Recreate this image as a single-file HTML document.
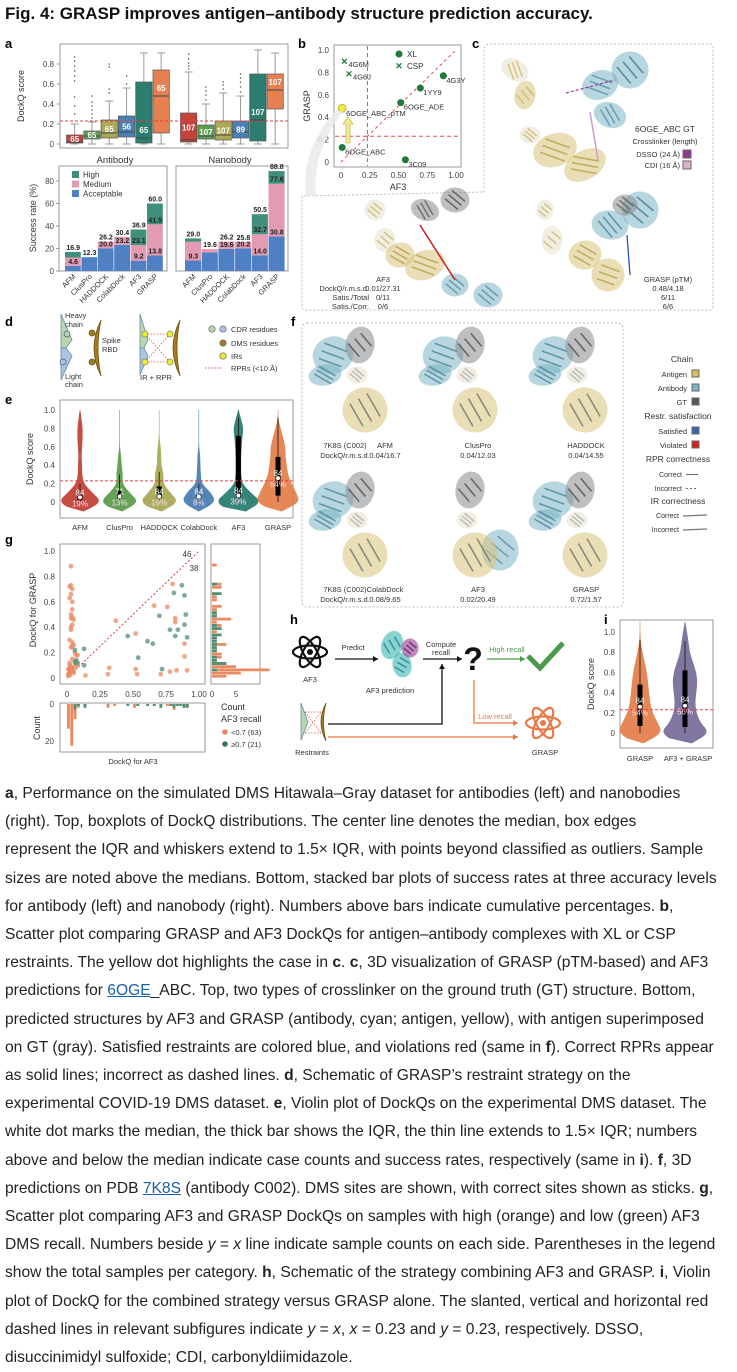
<!DOCTYPE html>
<html><head><meta charset="utf-8">
<style>
html,body{margin:0;padding:0;background:#fff;}
body{width:737px;height:1370px;position:relative;overflow:hidden;font-family:"Liberation Sans",sans-serif;}
#title{position:absolute;left:5px;top:4px;font-size:17px;font-weight:bold;color:#111;white-space:nowrap;}
#fig{position:absolute;left:0;top:0;}
#caption{position:absolute;left:5px;top:780px;font-size:15.6px;line-height:28.2px;color:#222;white-space:nowrap;}
#caption u{color:#1a5fa8;}
svg text{font-family:"Liberation Sans",sans-serif;}
</style></head>
<body>
<div id="title">Fig. 4: GRASP improves antigen–antibody structure prediction accuracy.</div>
<svg id="fig" width="737" height="775" viewBox="0 0 737 775"></svg>
<div id="caption"><b>a</b>, Performance on the simulated DMS Hitawala–Gray dataset for antibodies (left) and nanobodies<br>(right). Top, boxplots of DockQ distributions. The center line denotes the median, box edges<br>represent the IQR and whiskers extend to 1.5× IQR, with points beyond classified as outliers. Sample<br>sizes are noted above the medians. Bottom, stacked bar plots of success rates at three accuracy levels<br>for antibody (left) and nanobody (right). Numbers above bars indicate cumulative percentages. <b>b</b>,<br>Scatter plot comparing GRASP and AF3 DockQs for antigen–antibody complexes with XL or CSP<br>restraints. The yellow dot highlights the case in <b>c</b>. <b>c</b>, 3D visualization of GRASP (pTM-based) and AF3<br>predictions for <u>6OGE</u>_ABC. Top, two types of crosslinker on the ground truth (GT) structure. Bottom,<br>predicted structures by AF3 and GRASP (antibody, cyan; antigen, yellow), with antigen superimposed<br>on GT (gray). Satisfied restraints are colored blue, and violations red (same in <b>f</b>). Correct RPRs appear<br>as solid lines; incorrect as dashed lines. <b>d</b>, Schematic of GRASP’s restraint strategy on the<br>experimental COVID-19 DMS dataset. <b>e</b>, Violin plot of DockQs on the experimental DMS dataset. The<br>white dot marks the median, the thick bar shows the IQR, the thin line extends to 1.5× IQR; numbers<br>above and below the median indicate case counts and success rates, respectively (same in <b>i</b>). <b>f</b>, 3D<br>predictions on PDB <u>7K8S</u> (antibody C002). DMS sites are shown, with correct sites shown as sticks. <b>g</b>,<br>Scatter plot comparing AF3 and GRASP DockQs on samples with high (orange) and low (green) AF3<br>DMS recall. Numbers beside <i>y</i> = <i>x</i> line indicate sample counts on each side. Parentheses in the legend<br>show the total samples per category. <b>h</b>, Schematic of the strategy combining AF3 and GRASP. <b>i</b>, Violin<br>plot of DockQ for the combined strategy versus GRASP alone. The slanted, vertical and horizontal red<br>dashed lines in relevant subfigures indicate <i>y</i> = <i>x</i>, <i>x</i> = 0.23 and <i>y</i> = 0.23, respectively. DSSO,<br>disuccinimidyl sulfoxide; CDI, carbonyldiimidazole.</div>
<script>
// ---------- DATA ----------
const methods=['AFM','ClusPro','HADDOCK','ColabDock','AF3','GRASP'];
const abQ1=[0.01,0.05,0.06,0.07,0.01,0.11];
const abMed=[0.02,0.08,0.11,0.12,0.06,0.48];
const abQ3=[0.09,0.13,0.24,0.28,0.62,0.74];
const abWhi=[0.20,0.22,0.43,0.56,0.91,0.91];
const abN=['65','65','65','56','65','65'];
const abOut=[[0.3,0.38,0.47,0.63,0.68,0.73,0.78,0.83,0.87],[0.26,0.3,0.34,0.38,0.42,0.48],[0.51,0.55,0.77,0.8],[0.6,0.68],[],[]];
const nbQ1=[0.02,0.05,0.04,0.06,0.03,0.35];
const nbMed=[0.04,0.08,0.09,0.12,0.24,0.54];
const nbQ3=[0.31,0.19,0.23,0.23,0.70,0.70];
const nbWhi=[0.72,0.40,0.51,0.48,0.94,0.91];
const nbN=['107','107','107','89','107','107'];
const nbOut=[[0.75,0.78,0.81,0.85,0.9],[0.44,0.49,0.53,0.57],[0.55,0.59,0.62],[0.52,0.57,0.62,0.66,0.7],[],[]];
const yTicksA=[0,0.2,0.4,0.6,0.8];
const abBlue=[4.6,12.3,20.0,23.2,9.2,13.8];
const abPink=[12.0,12.3,26.2,30.4,23.1,41.5];
const abTot=[16.9,12.3,26.2,30.4,36.9,60.0];
const nbBlue=[9.3,16.5,19.6,20.2,14.0,30.8];
const nbPink=[26.0,19.6,26.2,25.8,32.7,77.6];
const nbTot=[29.0,19.6,26.2,25.8,50.5,88.8];
const yTicksS=[0,20,40,60,80];
const bNames=['6OGE_ABC','3C09','6OGE_ADE','1YY9','4G3Y'];
const bAF3=[0.01,0.56,0.52,0.69,0.89];
const bGRASP=[0.13,0.02,0.53,0.66,0.77];
const bCspNames=['4G6M','4G6J'];
const bCspAF3=[0.03,0.07];
const bCspGRASP=[0.90,0.79];
const bPtmAF3=0.01, bPtmGRASP=0.48;
const bTicks=[0,0.25,0.5,0.75,1.0];
const bYTicks=[0,0.2,0.4,0.6,0.8,1.0];
const vLevels=[-0.1,0,0.1,0.2,0.3,0.4,0.5,0.6,0.7,0.8,0.9,1.0];
const eDens=[[3,18,10,3,1.5,1.5,1,1.5,2,2,1,0],[2,16,8,2,2.5,1.5,1,0,0,0,0,0],[2,16,9,3,3.5,1.5,1.5,1,0,0,0,0],[0,14,10,2,1.5,1,1,0,0,0,0,0],[6,19,10,3,2,2,2,2.5,3,4,2,0],[3,18,15,11,8,7,6,6,4,2,0,0]];
const eQ1=[0.02,0.04,0.04,0.05,0.05,0.07];
const eMed=[0.05,0.06,0.06,0.06,0.07,0.26];
const eQ3=[0.08,0.12,0.17,0.08,0.72,0.49];
const eWhi=[0.2,0.3,0.33,0.2,0.92,0.92];
const eN=['84','71','84','84','84','84'];
const eRate=['19%','13%','19%','8%','39%','54%'];
const eColors=['#c4443a','#5d9e50','#a8aa55','#4a80b3','#2c7d70','#e58150'];
const gOrangeX=[0.03,0.02,0.03,0.04,0.03,0.02,0.04,0.04,0.03,0.04,0.03,0.05,0.04,0.03,0.03,0.02,0.04,0.05,0.03,0.06,0.07,0.08,0.04,0.06,0.02,0.04,0.03,0.05,0.02,0.08,0.01,0.02,0.03,0.01,0.02,0.03,0.04,0.02,0.14,0.32,0.31,0.37,0.52,0.52,0.53,0.66,0.71,0.76,0.78,0.80,0.82,0.82,0.83,0.89,0.89,0.91,0.02,0.03,0.05,0.01,0.04,0.06,0.02];
const gOrangeY=[0.88,0.72,0.73,0.70,0.66,0.63,0.60,0.54,0.50,0.48,0.47,0.46,0.42,0.40,0.38,0.30,0.28,0.26,0.24,0.20,0.18,0.18,0.15,0.13,0.10,0.08,0.05,0.04,0.02,0.10,0.07,0.06,0.09,0.03,0.04,0.08,0.06,0.05,0.02,0.08,0.03,0.45,0.35,0.07,0.03,0.57,0.03,0.56,0.05,0.74,0.47,0.44,0.06,0.27,0.17,0.06,0.12,0.07,0.05,0.02,0.25,0.09,0.07];
const gGreenX=[0.06,0.07,0.08,0.13,0.13,0.46,0.54,0.61,0.65,0.70,0.72,0.78,0.81,0.82,0.84,0.87,0.89,0.89,0.90,0.91,0.06];
const gGreenY=[0.22,0.14,0.12,0.23,0.10,0.33,0.16,0.29,0.27,0.49,0.07,0.38,0.67,0.33,0.38,0.73,0.65,0.42,0.50,0.32,0.12];
const gTicks=[0,0.25,0.5,0.75,1.0];
const gYTicks=[0,0.2,0.4,0.6,0.8,1.0];
const iLevels=[-0.1,0,0.1,0.2,0.3,0.4,0.5,0.6,0.7,0.8,0.9,1.0,1.1];
const iDens=[[3,20,16,11,9,8,7,6,4,2,0.5,0,0],[6,22,14,10,9,10,11,10,7,4,3,1.5,0]];
const iQ1=[0.07,0.06], iMed=[0.26,0.27], iQ3=[0.48,0.62], iWhi=[0.92,0.91];
const iN=['84','84'], iRate=['54%','56%'];
const iNames=['GRASP','AF3 + GRASP'];
const iColors=['#e58150','#7b6f9b'];

// ---------- HELPERS ----------
const NS='http://www.w3.org/2000/svg';
const svg=document.getElementById('fig');
function el(tag,a,p){const e=document.createElementNS(NS,tag);for(const k in a)e.setAttribute(k,a[k]);(p||svg).appendChild(e);return e;}
function T(x,y,s,fs,anc,fill,fw){const t=el('text',{x:x,y:y,'font-size':fs,'text-anchor':anc||'start',fill:fill||'#333','font-weight':fw||'normal'});t.textContent=s;return t;}
function L(x1,y1,x2,y2,st,w,dash){const a={x1:x1,y1:y1,x2:x2,y2:y2,stroke:st||'#333','stroke-width':w||1};if(dash)a['stroke-dasharray']=dash;return el('line',a);}
function R(x,y,w,h,f,st){const a={x:x,y:y,width:w,height:h,fill:f||'none'};if(st){a.stroke=st;a['stroke-width']=1;}return el('rect',a);}
function panelLetter(x,y,s){const t=T(x,y,s,13,'start','#000','bold');}

// ---------- PANEL A: boxplots ----------
panelLetter(5,48,'a');
const yA=v=>144-100*v;
let fa=R(60,44,228,104,'none','#999');


yTicksA.forEach(v=>{
  const tl=T(54,yA(v)+3,v===0?'0':v.toFixed(1),8,'end','#444');
  
  
  const tk=L(57,yA(v),60,yA(v),'#999');
  
  
});
let yta=T(0,0,'DockQ score',9,'middle','#333');
yta.setAttribute('transform','translate(24,96) rotate(-90)');


function boxGroup(x0,q1,med,q3,whi,ns,outs,grp){
  const BW=17.3;
  for(let i=0;i<6;i++){
    const x=x0+i*BW, cx=x+BW/2;
    const w=L(cx,yA(0),cx,yA(whi[i]),'#999',1);
    
    
    const c1=L(cx-4,yA(whi[i]),cx+4,yA(whi[i]),'#999',1);
    
    
    const c2=L(cx-4,yA(0),cx+4,yA(0),'#999',1);
    
    
    outs[i].forEach(o=>{
      const d=el('circle',{cx:cx,cy:yA(o),r:0.8,fill:'#555'});
      
      
    });
    const b=el('rect',{x:x+0.5,y:yA(q3[i]),width:BW-1,height:yA(q1[i])-yA(q3[i]),fill:eColors[i],stroke:'#555','stroke-width':0.7});
    
    
    const m=L(x+0.5,yA(med[i]),x+BW-0.5,yA(med[i]),'#444',1);
    
    
    const lv=(q3[i]-q1[i])<0.3?(q1[i]+q3[i])/2:med[i]+0.08;
    const t=T(cx,yA(lv)+3,ns[i],8,'middle','#fff','bold');
    
    
  }
}
boxGroup(66,abQ1,abMed,abQ3,abWhi,abN,abOut,'antibody');
boxGroup(180,nbQ1,nbMed,nbQ3,nbWhi,nbN,nbOut,'nanobody');
let thA=L(60,yA(0.23),288,yA(0.23),'#e04040',1,'3,2');


let gl1=T(115,163,'Antibody',9.5,'middle','#333');


let gl2=T(230,163,'Nanobody',9.5,'middle','#333');



// ---------- PANEL A: stacked bars ----------
const yS=v=>271-1.125*v;
let fs1=R(59,166,108,105,'none','#999');


let fs2=R(176,166,112,105,'none','#999');


yTicksS.forEach(v=>{
  const t=T(54,yS(v)+3,String(v),8,'end','#444');
  
  
  const tk=L(56,yS(v),59,yS(v),'#999');
  
  
});
let yts=T(0,0,'Success rate (%)',9,'middle','#333');
yts.setAttribute('transform','translate(36,218) rotate(-90)');


const cHigh='#3f8f7c', cMed='#e39bb2', cAcc='#5080c4';
function barGroup(x0,bw,blue,pink,tot,grp){
  for(let i=0;i<6;i++){
    const x=x0+i*bw;
    const r1=R(x,yS(blue[i]),bw-0.6,yS(0)-yS(blue[i]),cAcc);
    
    
    const r2=R(x,yS(pink[i]),bw-0.6,yS(blue[i])-yS(pink[i]),cMed);
    
    
    const r3=R(x,yS(tot[i]),bw-0.6,yS(pink[i])-yS(tot[i]),cHigh);
    
    
    const cx=x+bw/2;
    const tt=T(cx,yS(tot[i])-2,tot[i].toFixed(1),7,'middle','#222','bold');
    
    
    if(pink[i]-blue[i]>3.5){
      const tb=T(cx,yS(blue[i])-2,blue[i].toFixed(1),7,'middle','#222','bold');
      
      
    }
    if(tot[i]-pink[i]>5&&pink[i]-blue[i]>8){
      const tp=T(cx,yS(pink[i])-2,pink[i].toFixed(1),7,'middle','#222','bold');
      
      
    }
    const xl=T(0,0,methods[i],7.5,'end','#333');
    xl.setAttribute('transform','translate('+(cx+3)+',277) rotate(-45)');
    
    
  }
}
barGroup(65,16.4,abBlue,abPink,abTot,'antibody');
barGroup(185,16.7,nbBlue,nbPink,nbTot,'nanobody');
[['High',cHigh],['Medium',cMed],['Acceptable',cAcc]].forEach((d,k)=>{
  const s=R(72,171+k*9.5,7,7,d[1]);
  
  
  const t=T(83,177.5+k*9.5,d[0],8,'start','#333');
  
  
});

// ---------- PANEL B ----------
panelLetter(298,48,'b');
const xB=v=>341+115*v, yB=v=>162-112*v;
let fb=R(334,45,127,122,'none','#999');


bTicks.forEach(v=>{
  const t=T(xB(v),178,v===0?'0':v.toFixed(2),8,'middle','#444');
  
  
});
bYTicks.forEach(v=>{
  const t=T(329,yB(v)+3,v===0?'0':v.toFixed(1),8,'end','#444');
  
  
});
let bx=T(398,190,'AF3',9,'middle','#333');


let byt=T(0,0,'GRASP',9,'middle','#333');
byt.setAttribute('transform','translate(310,106) rotate(-90)');


let bd1=L(xB(0.23),46,xB(0.23),166,'#e05050',1,'4,3');


let bd2=L(335,yB(0.23),460,yB(0.23),'#e05050',1,'4,3');


let bd3=L(xB(0),yB(0),xB(1),yB(1),'#e05050',1,'3,3');


bNames.forEach((n,i)=>{
  const c=el('circle',{cx:xB(bAF3[i]),cy:yB(bGRASP[i]),r:3.5,fill:'#1f7a3a'});
  
  
  const t=T(xB(bAF3[i])+3,yB(bGRASP[i])+7,n,7.5,'start','#333');
  
  
});
bCspNames.forEach((n,i)=>{
  const t=T(xB(bCspAF3[i]),yB(bCspGRASP[i])+3.5,'✕',9,'middle','#1f7a3a','bold');
  
  
  const l=T(xB(bCspAF3[i])+4,yB(bCspGRASP[i])+6,n,7.5,'start','#333');
  
  
});
let ptm=el('circle',{cx:xB(bPtmAF3),cy:yB(bPtmGRASP),r:4,fill:'#f2e64c',stroke:'#b8a820','stroke-width':0.7});


let ptl=T(xB(bPtmAF3)+4,yB(bPtmGRASP)+8,'6OGE_ABC_pTM',7.5,'start','#333');


let arw=el('path',{d:'M346,143 L346,124 L343,124 L348,117 L353,124 L350,124 L350,143 Z',fill:'#f2ec9a',stroke:'#b8a820','stroke-width':0.6});


let lx=el('circle',{cx:399,cy:54,r:3.5,fill:'#1f7a3a'});


let lxt=T(407,57,'XL',8,'start','#333');


let lc=T(399,69,'✕',9,'middle','#1f7a3a','bold');


let lct=T(407,69,'CSP',8,'start','#333');



// ---------- PANEL C ----------
panelLetter(472,48,'c');
let cbox=el('path',{d:'M490,44 L710,44 Q713,44 713,47 L713,307 Q713,310 710,310 L305,310 Q302,310 302,307 L302,196 L484,192 L484,50 Q484,44 490,44',fill:'none',stroke:'#bbb','stroke-width':1,'stroke-dasharray':'2,2'});


let zoomBand=el('path',{d:'M336,110 Q300,150 306,196 L316,196 Q312,150 343,112 Z',fill:'#e8e8e8',opacity:0.8});


function protein(parts,name){
  const g=el('g',{});
  
  
  parts.forEach(p=>{
    const col=p[4];
    const e=el('ellipse',{cx:p[0],cy:p[1],rx:p[2],ry:p[3],fill:col,opacity:0.55,stroke:col,'stroke-width':1,transform:'rotate('+(p[5]||0)+' '+p[0]+' '+p[1]+')'},g);
    
    
    for(let k=-1;k<=1;k++){
      const ln=el('line',{x1:p[0]-p[2]*0.6,y1:p[1]+k*p[3]*0.45,x2:p[0]+p[2]*0.6,y2:p[1]+k*p[3]*0.45,stroke:p[6]||'#555','stroke-width':1.6,opacity:0.7,transform:'rotate('+((p[5]||0)+40)+' '+p[0]+' '+p[1]+')'},g);
      
      
    }
  });
}
const Y='#d8c47a',Cy='#7db5c6',G='#8a8c90',W='#e6e2cf';
protein([[515,70,14,10,W,30,'#c9b460'],[525,95,10,14,Y,10,'#c9b460'],[555,150,22,16,Y,-20,'#b09a40'],[585,165,22,14,Y,-30,'#b09a40'],[530,135,10,8,W,0,'#c9b460'],[600,85,18,14,Cy,-20,'#4d8a9c'],[630,70,18,18,Cy,10,'#2f6d80'],[610,115,16,12,Cy,20,'#4d8a9c']],'gt-structure');
let xl1=L(566,93,615,80,'#9a3a9a',1.2,'3,2');


let xl2=L(590,112,598,160,'#d49ac8',1.5);


let ct1=T(665,132,'6OGE_ABC GT',8.5,'middle','#333');


let ct2=T(665,144,'Crosslinker (length)',7.5,'middle','#333');


let ct3=T(680,157,'DSSO (24 Å)',7.5,'end','#333');


let cs3=R(683,150,8,8,'#8e3a8e','#666');


let ct4=T(680,168,'CDI (16 Å)',7.5,'end','#333');


let cs4=R(683,161,8,8,'#e0b0cc','#666');


protein([[375,210,10,10,W,0,'#c9b460'],[385,240,10,12,W,0,'#c9b460'],[400,255,14,12,Y,-10,'#b09a40'],[425,265,20,14,Y,-20,'#b09a40'],[425,210,14,10,G,20,'#555'],[455,200,14,12,G,0,'#444'],[455,285,13,11,Cy,0,'#4d8a9c'],[488,295,14,12,Cy,0,'#4d8a9c']],'af3-structure');
let rl=L(420,225,455,280,'#cc2020',1.5);


protein([[545,210,8,10,W,0,'#c9b460'],[552,240,10,14,W,0,'#c9b460'],[585,255,16,14,Y,-10,'#b09a40'],[608,275,16,16,Y,-20,'#b09a40'],[610,225,18,14,Cy,10,'#3d7d90'],[640,210,18,18,Cy,0,'#2f6d80'],[625,205,12,10,G,0,'#555']],'grasp-structure');
let sl=L(627,235,630,275,'#3050c0',1.3);


const cLab=[['AF3',''],['DockQ/r.m.s.d.','0.01/27.31'],['Satis./Total','0/11'],['Satis./Corr.','0/6']];
cLab.forEach((r,k)=>{
  if(k===0){const t=T(383,282,'AF3',7.5,'middle','#333');return;}
  const a=T(369,282+k*9,r[0],7.5,'end','#333');
  
  
  const b=T(383,282+k*9,r[1],7.5,'middle','#333');
  
  
});
['GRASP (pTM)','0.48/4.18','6/11','6/6'].forEach((s,k)=>{
  const t=T(668,282+k*9,s,7.5,'middle','#333');
  
  
});

// ---------- PANEL D ----------
panelLetter(5,326,'d');
let dh=el('path',{d:'M61,314 L72,340 L66,348 L61,348 Z',fill:'#b8d6ae',stroke:'#6a8aa8','stroke-width':0.8});


let dl=el('path',{d:'M61,348 L66,348 L72,356 L61,380 Z',fill:'#a8c6e4',stroke:'#6a8aa8','stroke-width':0.8});


[[67,334,'#b8d6ae'],[63,362,'#a8c6e4']].forEach(c=>{const e=el('circle',{cx:c[0],cy:c[1],r:3,fill:c[2],stroke:'#557','stroke-width':0.7});});
function rbd(x){const p=el('path',{d:'M'+(x+8)+',320 Q'+(x-6)+',348 '+(x+8)+',376 Q'+(x+2)+',348 '+(x+8)+',320 Z',fill:'#a47c1e',stroke:'#6b5010','stroke-width':0.8});}
rbd(93);rbd(172);
[[92,333],[92,362]].forEach(c=>{const e=el('circle',{cx:c[0],cy:c[1],r:3,fill:'#a47c1e',stroke:'#553','stroke-width':0.7});});
[['Heavy',65,318],['chain',65,327],['Spike',102,343],['RBD',102,352],['Light',65,379],['chain',65,387]].forEach(d=>{const t=T(d[1],d[2],d[0],7.5,'start','#333');});
let dh2=el('path',{d:'M140,314 L148,340 L144,348 L140,348 Z',fill:'#b8d6ae',stroke:'#6a8aa8','stroke-width':0.8});


let dl2=el('path',{d:'M140,348 L144,348 L148,356 L140,375 Z',fill:'#a8c6e4',stroke:'#6a8aa8','stroke-width':0.8});


[[145,334,170,334],[145,362,170,362],[145,334,170,362],[145,362,170,334]].forEach(l=>{const e=L(l[0],l[1],l[2],l[3],'#e05050',0.8,'1.5,1.5');});
[[145,334],[145,362],[170,334],[170,362]].forEach(c=>{const e=el('circle',{cx:c[0],cy:c[1],r:3,fill:'#ecec30',stroke:'#886','stroke-width':0.7});});
let irl=T(140,380,'IR + RPR',7.5,'start','#333');


[[212,329,'#b8d6ae'],[223,329,'#a8c6e4'],[223,343,'#a47c1e'],[223,356,'#ecec30']].forEach(c=>{const e=el('circle',{cx:c[0],cy:c[1],r:3.2,fill:c[2],stroke:'#667','stroke-width':0.7});});
let rl2=L(205,368,222,368,'#e05050',0.9,'1.5,1.5');


[['CDR residues',332],['DMS residues',346],['IRs',359],['RPRs (<10 Å)',371]].forEach(d=>{const t=T(231,d[1],d[0],7.5,'start','#333');});

// ---------- VIOLIN helper ----------
function violin(cx,dens,levels,ys,col,scale,name){
  let right=[],left=[];
  for(let k=0;k<levels.length;k++){right.push([cx+dens[k]*scale,ys(levels[k])]);}
  for(let k=levels.length-1;k>=0;k--){left.push([cx-dens[k]*scale,ys(levels[k])]);}
  const pts=right.concat(left);
  let d='M'+pts[0][0]+','+pts[0][1];
  for(let k=1;k<pts.length;k++){const p0=pts[k-1],p1=pts[k];const mx=(p0[0]+p1[0])/2,my=(p0[1]+p1[1])/2;d+=' Q'+p0[0]+','+p0[1]+' '+mx+','+my;}
  d+=' Z';
  const p=el('path',{d:d,fill:col,stroke:col,'stroke-width':0.6,opacity:0.95});
  
  
}

// ---------- PANEL E ----------
panelLetter(5,404,'e');
const yE=v=>502-92*v;
let fe=R(60,400,233,118,'none','#999');


[0,0.2,0.4,0.6,0.8,1.0].forEach(v=>{
  const t=T(55,yE(v)+3,v===0?'0':v.toFixed(1),8,'end','#444');
  
  
});
let eyt=T(0,0,'DockQ score',9,'middle','#333');
eyt.setAttribute('transform','translate(33,459) rotate(-90)');


methods.forEach((m,i)=>{
  const cx=80+39.6*i;
  violin(cx,eDens[i],vLevels,yE,eColors[i],1.2,'violin-'+m);
  const wl=L(cx,yE(0),cx,yE(eWhi[i]),'#111',0.8);
  
  
  const ib=el('rect',{x:cx-2.5,y:yE(eQ3[i]),width:5,height:yE(eQ1[i])-yE(eQ3[i]),fill:'#000'});
  
  
  const md=el('circle',{cx:cx,cy:yE(eMed[i]),r:2,fill:'#fff'});
  
  
  const n=T(cx,yE(eMed[i])-2,eN[i],8,'middle','#fff');
  
  
  const r=T(cx,yE(eMed[i])+9,eRate[i],8,'middle','#fde');
  
  
  const xl=T(cx,530,m,7.5,'middle','#333');
  
  
});
let eth=L(60,yE(0.23),293,yE(0.23),'#e04040',1,'3,2');



// ---------- PANEL F ----------
panelLetter(291,326,'f');
let fbx=R(302,323,321,284,'none','#bbb');
fbx.setAttribute('rx',5);
fbx.setAttribute('stroke-dasharray','2,2');


const fCells=[[355,380,0],[465,380,1],[575,380,2],[355,525,3],[465,525,4],[575,525,5]];
fCells.forEach((c,k)=>{
  const x=c[0],y=c[1];
  const ab= k===4 ? [[x+35,y+25,18,20,Cy,0,'#4d8a9c']] : [[x-22,y-25,20,18,Cy,-20,'#3d7d90'],[x-30,y-5,16,10,Cy,-10,'#3d7d90']];
  protein(ab.concat([[x+5,y-35,14,18,G,10,'#444'],[x+10,y+30,22,22,Y,20,'#666'],[x+2,y-5,10,8,W,0,'#aaa']]),'f-structure-'+k);
});
[['7K8S (C002)',345,448,'middle'],['DockQ/r.m.s.d.',345,458,'middle'],['AFM',385,448,'middle'],['0.04/16.7',385,458,'middle'],['ClusPro',478,448,'middle'],['0.04/12.03',478,458,'middle'],['HADDOCK',586,448,'middle'],['0.04/14.55',586,458,'middle'],
 ['7K8S (C002)',345,592,'middle'],['DockQ/r.m.s.d.',345,602,'middle'],['ColabDock',385,592,'middle'],['0.08/9.65',385,602,'middle'],['AF3',478,592,'middle'],['0.02/20.49',478,602,'middle'],['GRASP',586,592,'middle'],['0.72/1.57',586,602,'middle']].forEach(d=>{
  const t=T(d[1],d[2],d[0],7.5,d[3],'#333');
  
  
});
[['Chain',682,362,'middle',8.5],['Restr. satisfaction',678,419,'middle',8.5],['RPR correctness',678,462,'middle',8.5],['IR correctness',678,504,'middle',8.5]].forEach(d=>{
  const t=T(d[1],d[2],d[0],d[4],d[3],'#333');
  
  
});
[['Antigen',377,'#d8c060'],['Antibody',391,'#7db5c6'],['GT',405,'#55585e'],['Satisfied',434,'#3b64b8'],['Violated',448,'#d82020']].forEach(d=>{
  const t=T(687,d[1],d[0],7.5,'end','#333');
  
  
  const s=R(692,d[1]-7,7,7,d[2],'#666');
  
  
});
[['Correct',477,''],['Incorrect',491,'2,2']].forEach(d=>{
  const t=T(682,d[1],d[0],7,'end','#333');
  
  
  const l=L(686,d[1]-2.5,698,d[1]-2.5,'#444',0.8,d[2]||null);
  
  
});
[['Correct',518],['Incorrect',532]].forEach(d=>{
  const t=T(679,d[1],d[0],7,'end','#333');
  
  
  const l=L(683,d[1]-2,707,d[1]-3,'#777',1.3);
  
  
});

// ---------- PANEL G ----------
panelLetter(5,544,'g');
const xG=v=>67+132*v, yG=v=>678-127*v;
let fg=R(60,544,145,140,'none','#999');


gTicks.forEach(v=>{
  const t=T(xG(v),697,v===0?'0':v.toFixed(2),8,'middle','#444');
  
  
});
gYTicks.forEach(v=>{
  const t=T(55,yG(v)+3,v===0?'0':v.toFixed(1),8,'end','#444');
  
  
});
let gyt=T(0,0,'DockQ for GRASP',9,'middle','#333');
gyt.setAttribute('transform','translate(36,610) rotate(-90)');


let gd=L(xG(0),yG(0),xG(1),yG(1),'#d04040',1,'2,2');


let g46=T(187,557,'46',8,'middle','#333');


let g38=T(194,571,'38',8,'middle','#333');


const cOr='#ea8a63', cGr='#4d9174';
gOrangeX.forEach((x,i)=>{
  const c=el('circle',{cx:xG(x),cy:yG(gOrangeY[i]),r:2.4,fill:cOr,opacity:0.75});
  
  
});
gGreenX.forEach((x,i)=>{
  const c=el('circle',{cx:xG(x),cy:yG(gGreenY[i]),r:2.4,fill:cGr,opacity:0.75});
  
  
});
const NB=40;
function hist(arr){const h=new Array(NB).fill(0);arr.forEach(v=>{h[Math.min(NB-1,Math.max(0,Math.floor(v*NB)))]++;});return h;}
const hOY=hist(gOrangeY), hGY=hist(gGreenY), hOX=hist(gOrangeX), hGX=hist(gGreenX);
let fr=R(211,544,49,140,'none','#999');


for(let b=0;b<NB;b++){
  const y0=yG((b+1)/NB), hh=yG(b/NB)-y0;
  if(hOY[b]){const r=R(212,y0,4.8*hOY[b],hh-0.4,cOr);}
  if(hGY[b]){const r=R(212,y0,4.8*hGY[b],hh-0.4,cGr);}
}
[['0',212],['5',236]].forEach(d=>{const t=T(d[1],697,d[0],8,'middle','#444');});
let fbh=R(60,703,145,49,'none','#999');


for(let b=0;b<NB;b++){
  const x0=xG(b/NB), ww=xG((b+1)/NB)-x0;
  if(hOX[b]){const r=R(x0,704,ww-0.4,Math.min(47,1.9*hOX[b]),cOr);}
  if(hGX[b]){const r=R(x0,704,ww-0.4,1.9*hGX[b],cGr);}
}
[['0',707],['20',744]].forEach(d=>{const t=T(54,d[1],d[0],8,'end','#444');});
let cnt=T(0,0,'Count',9,'middle','#333');
cnt.setAttribute('transform','translate(40,728) rotate(-90)');


let gx=T(133,764,'DockQ for AF3',7.5,'middle','#333');


let lg1=T(221,710,'Count',9,'start','#333');


let lg2=T(221,722,'AF3 recall',9,'start','#333');


[['<0.7 (63)',cOr,735],['≥0.7 (21)','#2f7a55',747]].forEach(d=>{
  const c=el('circle',{cx:225,cy:d[2]-3,r:2.8,fill:d[1]});
  
  
  const t=T(231,d[2],d[0],7.5,'start','#333');
  
  
});

// ---------- PANEL H ----------
panelLetter(290,624,'h');
function atom(cx,cy,col,name){
  const g=el('g',{});
  
  
  [0,60,120].forEach(a=>{const e=el('ellipse',{cx:cx,cy:cy,rx:17,ry:6.5,fill:'none',stroke:col,'stroke-width':2.2,transform:'rotate('+a+' '+cx+' '+cy+')'},g);});
  const d=el('circle',{cx:cx,cy:cy,r:3,fill:col},g);
  
  
}
atom(310,652,'#111','af3-icon');
atom(543,723,'#e87a45','grasp-icon');
function arrow(pts,col,name){
  const p=el('polyline',{points:pts.map(q=>q.join(',')).join(' '),fill:'none',stroke:col,'stroke-width':1.3});
  
  
  const a=pts[pts.length-1], b=pts[pts.length-2];
  const ang=Math.atan2(a[1]-b[1],a[0]-b[0]);
  const h=el('polygon',{points:[a,[a[0]-5*Math.cos(ang)+3*Math.sin(ang),a[1]-5*Math.sin(ang)-3*Math.cos(ang)],[a[0]-5*Math.cos(ang)-3*Math.sin(ang),a[1]-5*Math.sin(ang)+3*Math.cos(ang)]].map(q=>q.join(',')).join(' '),fill:col});
  
  
}
arrow([[335,659],[378,659]],'#111','predict-arrow');
arrow([[423,659],[462,659]],'#111','compute-arrow');
arrow([[328,724],[442,724],[442,664]],'#111','restraints-to-recall-arrow');
arrow([[487,659],[525,659]],'#4a9a4a','high-recall-arrow');
arrow([[474,680],[474,723],[518,723]],'#e87a45','low-recall-arrow');
arrow([[328,737],[518,737]],'#e87a45','restraints-to-grasp-arrow');
protein([[392,645,10,14,'#2bb0b0',20,'#1a8080'],[402,665,9,12,'#2bb0b0',-10,'#1a8080'],[410,648,8,9,'#8a2a8a',0,'#601a60']],'af3-prediction-icon');
[['AF3',310,682,'#333'],['Predict',353,650,'#333'],['AF3 prediction',390,693,'#333'],['Compute',441,647,'#333'],['recall',441,655,'#333'],['High recall',507,652,'#4a9a4a'],['Low recall',495,719,'#e87a45'],['Restraints',312,755,'#333'],['GRASP',545,755,'#333']].forEach(d=>{
  const t=T(d[1],d[2],d[0],7.5,'middle',d[3]);
  
  
});
let q=T(473,670,'?',32,'middle','#111','bold');


let chk=el('polyline',{points:'528,656 540,668 563,643',fill:'none',stroke:'#4a9a4a','stroke-width':5});


let rsT=el('path',{d:'M301,703 L308,722 L301,740 Z',fill:'#b8d6ae',stroke:'#6a8aa8','stroke-width':0.8});


let rsA=el('path',{d:'M326,703 Q316,722 326,741 Q321,722 326,703 Z',fill:'#a47c1e',stroke:'#6b5010','stroke-width':0.8});


[[305,712,321,712],[305,733,321,733],[305,712,321,733],[305,733,321,712]].forEach(l=>{const e=L(l[0],l[1],l[2],l[3],'#e05050',0.8,'1.5,1.5');});

// ---------- PANEL I ----------
panelLetter(604,624,'i');
const yI=v=>733-101*v;
let fi=R(620,620,93,128,'none','#999');


[0,0.2,0.4,0.6,0.8,1.0].forEach(v=>{
  const t=T(615,yI(v)+3,v===0?'0':v.toFixed(1),8,'end','#444');
  
  
});
let iyt=T(0,0,'DockQ score',9,'middle','#333');
iyt.setAttribute('transform','translate(594,684) rotate(-90)');


iNames.forEach((m,i)=>{
  const cx=640+45*i;
  violin(cx,iDens[i],iLevels,yI,iColors[i],1.1,'violin-'+m.replace(/ \+ /,'-').toLowerCase());
  const wl=L(cx,yI(0),cx,yI(iWhi[i]),'#111',0.8);
  
  
  const ib=el('rect',{x:cx-2.5,y:yI(iQ3[i]),width:5,height:yI(iQ1[i])-yI(iQ3[i]),fill:'#000'});
  
  
  const md=el('circle',{cx:cx,cy:yI(iMed[i]),r:2,fill:'#fff'});
  
  
  const n=T(cx,yI(iMed[i])-3,iN[i],8,'middle','#fff');
  
  
  const r=T(cx,yI(iMed[i])+9,iRate[i],8,'middle','#fde');
  
  
  const xl=T(cx+(i?3:0),761,m,7.5,'middle','#333');
  
  
});
let ith=L(620,yI(0.23),713,yI(0.23),'#e04040',1,'3,2');


</script>
</body></html>
